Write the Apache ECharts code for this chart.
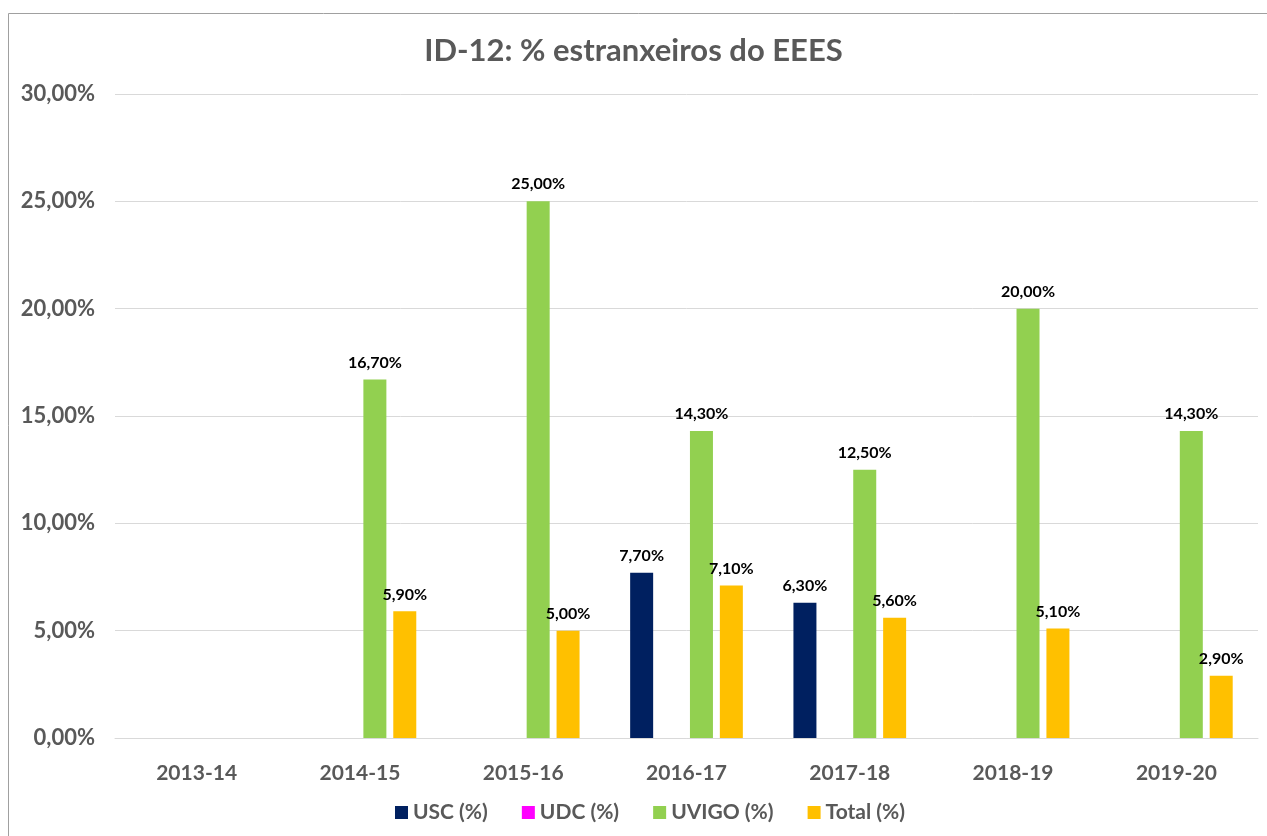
<!DOCTYPE html>
<html>
<head>
<meta charset="utf-8">
<script src="https://cdn.jsdelivr.net/npm/echarts@6/dist/echarts.min.js"></script>
<style>
  html, body { margin: 0; padding: 0; background: #fff; }
  #chart { width: 1267px; height: 836px; }
</style>
</head>
<body>
<div id="chart"></div>
<script>
// cursos academicos
var cursos = ['2013-14', '2014-15', '2015-16', '2016-17', '2017-18', '2018-19', '2019-20'];
// porcentaxes (null = sen dato)
var usc   = [null, null, null, 7.7, 6.3, null, null];
var udc   = [null, null, null, null, null, null, null];
var uvigo = [null, 16.7, 25.0, 14.3, 12.5, 20.0, 14.3];
var total = [null, 5.9, 5.0, 7.1, 5.6, 5.1, 2.9];
var yTicks = [0, 5, 10, 15, 20, 25, 30];

var fontF = 'Lato, "Open Sans", sans-serif';
var grey = '#595959';

function pct(v) {
    return v.toFixed(2).replace('.', ',') + '%';
}

function serie(name, data, color) {
    return {
        name: name,
        type: 'bar',
        data: data,
        barWidth: 23,
        barGap: '30%',
        itemStyle: { color: color },
        label: {
            show: true,
            position: 'top',
            distance: 9,
            color: '#000',
            fontFamily: fontF,
            fontWeight: 'bold',
            fontSize: 16,
            formatter: function (p) { return pct(p.value); }
        }
    };
}

var myChart = echarts.init(document.getElementById('chart'));
var option = {
    animation: false,
    backgroundColor: '#fff',
    graphic: [{
        type: 'rect',
        shape: { x: 8.5, y: 13.5, width: 1400, height: 1000 },
        style: { fill: 'none', stroke: '#a0a0a0', lineWidth: 1 },
        silent: true
    }],
    title: {
        text: 'ID-12: % estranxeiros do EEES',
        left: 'center',
        top: 30,
        textStyle: {
            fontFamily: fontF,
            fontWeight: 'bold',
            fontSize: 31,
            color: grey
        }
    },
    legend: {
        bottom: 8,
        left: 390,
        itemWidth: 13,
        itemHeight: 13,
        itemGap: 34,
        icon: 'rect',
        textStyle: {
            fontFamily: fontF,
            fontWeight: 'bold',
            fontSize: 21,
            color: grey
        },
        data: ['USC (%)', 'UDC (%)', 'UVIGO (%)', 'Total (%)']
    },
    grid: { left: 115, right: 9, top: 94, bottom: 98 },
    xAxis: {
        type: 'category',
        data: cursos,
        axisLine: { lineStyle: { color: '#d9d9d9', width: 1 } },
        axisTick: { show: false },
        axisLabel: {
            margin: 25,
            fontFamily: fontF,
            fontWeight: 'bold',
            fontSize: 21,
            color: grey
        }
    },
    yAxis: {
        type: 'value',
        min: yTicks[0],
        max: yTicks[yTicks.length - 1],
        interval: 5,
        axisLine: { show: false },
        axisTick: { show: false },
        splitLine: { lineStyle: { color: '#d9d9d9', width: 1 } },
        axisLabel: {
            margin: 20,
            fontFamily: fontF,
            fontWeight: 'bold',
            fontSize: 22,
            color: grey,
            formatter: function (v) { return pct(v); }
        }
    },
    series: [
        serie('USC (%)', usc, '#002060'),
        serie('UDC (%)', udc, '#ff00ff'),
        serie('UVIGO (%)', uvigo, '#92d050'),
        serie('Total (%)', total, '#ffc000')
    ]
};
myChart.setOption(option);
window.onresize = function () {
    myChart.resize();
};
</script>
</body>
</html>
